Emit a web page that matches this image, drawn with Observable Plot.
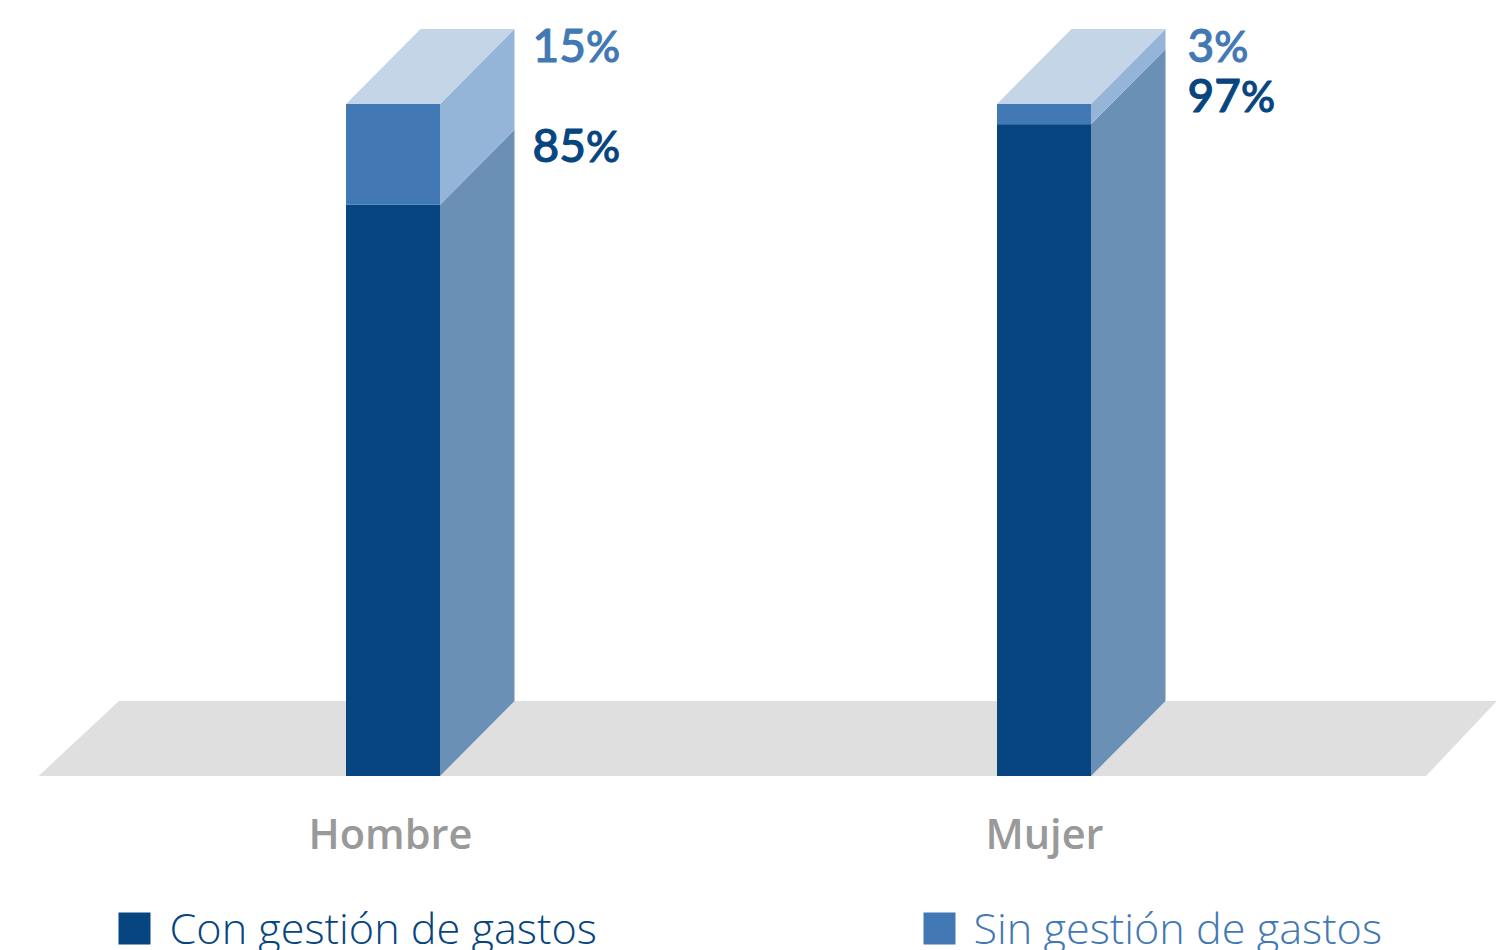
<!DOCTYPE html>
<html lang="es">
<head>
<meta charset="utf-8">
<script src="https://cdn.jsdelivr.net/npm/d3@7"></script>
<script src="https://cdn.jsdelivr.net/npm/@observablehq/plot@0.6"></script>
<style>
  html, body { margin: 0; padding: 0; background: #fff; overflow: hidden; }
  svg { display: block; }
</style>
</head>
<body>
<div id="chart"></div>
<script>
// Share of each group, in percent
const categories = ["Hombre", "Mujer"];
const conGestion = [85, 97];
const sinGestion = [15, 3];
const seriesNames = ["Con gestión de gastos", "Sin gestión de gastos"];

// Palette: front, side and top faces of the columns
const front = ["#064580", "#4279b5"];
const side = ["#6b90b5", "#94b4d8"];
const topFace = "#c4d5e8";
const floorColor = "#dfdfdf";
const categoryColor = "#999999";

// Layout of the oblique projection, in pixels
const baseY = 776, fullY = 104;
const pxPerUnit = (baseY - fullY) / 100;
const py = (px) => (baseY - px) / pxPerUnit;     // pixel row to percent units
const barLeft = [346, 997], barWidth = 94;
const depthX = 74.5, depthY = py(baseY - 75);
const labelX = [532, 1187];
const labelRows = [[161, 61], [111, 61]];        // text anchors for [con, sin]
const font = "'Open Sans', sans-serif";

// One record per stacked segment
const segments = categories.flatMap((name, i) => {
  const a = conGestion[i], b = sinGestion[i];
  return [
    {name, i, s: 0, y1: 0, y2: a, value: a},
    {name, i, s: 1, y1: a, y2: a + b, value: b}
  ];
});

// Parallelogram on the right of each segment
const sideFaces = segments.flatMap((d) => [0, 1].map((t) => ({
  id: `${d.i}-${d.s}`, s: d.s,
  x: barLeft[d.i] + barWidth + t * depthX,
  y1: d.y1 + t * depthY,
  y2: d.y2 + t * depthY
})));

// Parallelogram above each column
const topFaces = categories.flatMap((name, i) => [0, 1].map((t) => ({
  id: i,
  y: 100 + t * depthY,
  x1: barLeft[i] + t * depthX,
  x2: barLeft[i] + barWidth + t * depthX
})));

const floor = [
  {y: 0, x1: 38.5, x2: 1426},
  {y: depthY, x1: 119, x2: 1497}
];

const chart = Plot.plot({
  width: 1496,
  height: 950,
  margin: 0,
  style: {background: "#fff", fontFamily: font},
  x: {type: "linear", domain: [0, 1496], range: [0, 1496], axis: null},
  y: {type: "linear", domain: [0, 100], range: [baseY, fullY], axis: null},
  marks: [
    Plot.areaX(floor, {y: "y", x1: "x1", x2: "x2", fill: floorColor}),
    Plot.areaY(sideFaces, {x: "x", y1: "y1", y2: "y2", z: "id", fill: (d) => side[d.s]}),
    Plot.areaX(topFaces, {y: "y", x1: "x1", x2: "x2", z: "id", fill: topFace}),
    Plot.rect(segments, {
      x1: (d) => barLeft[d.i],
      x2: (d) => barLeft[d.i] + barWidth,
      y1: "y1", y2: "y2",
      fill: (d) => front[d.s]
    }),
    // Percent labels beside each column
    Plot.text(segments, {
      x: (d) => labelX[d.i],
      y: (d) => py(labelRows[d.i][d.s]),
      text: (d) => `${d.value}%`,
      textAnchor: "start",
      lineAnchor: "bottom",
      fontFamily: "Lato, sans-serif",
      fontSize: 46,
      fontWeight: 500,
      fill: (d) => front[d.s],
      stroke: (d) => front[d.s],
      strokeWidth: 1,
      className: "pct"
    }),
    // Category names under the floor
    Plot.text(categories, {
      x: (d, i) => [390, 1044][i],
      y: py(848),
      text: (d) => d,
      lineAnchor: "bottom",
      fontSize: 41.5,
      fontWeight: 600,
      fill: categoryColor
    }),
    // Legend swatches and names
    Plot.dot(seriesNames, {
      x: (d, i) => [134, 939][i],
      y: py(928),
      symbol: "square",
      r: 18.05,
      fill: (d, i) => front[i]
    }),
    Plot.text(seriesNames, {
      x: (d, i) => [169, 973][i],
      y: py(943),
      text: (d) => d,
      textAnchor: "start",
      lineAnchor: "bottom",
      fontSize: 43.2,
      fontWeight: 300,
      fill: (d, i) => front[i]
    })
  ]
});

// The percent sign sits smaller than its number
d3.select(chart).selectAll(".pct text").each(function () {
  const t = this.textContent;
  this.textContent = t.slice(0, -1);
  d3.select(this).append("tspan").attr("font-size", "0.92em").text("%");
});

document.getElementById("chart").append(chart);
</script>
</body>
</html>
